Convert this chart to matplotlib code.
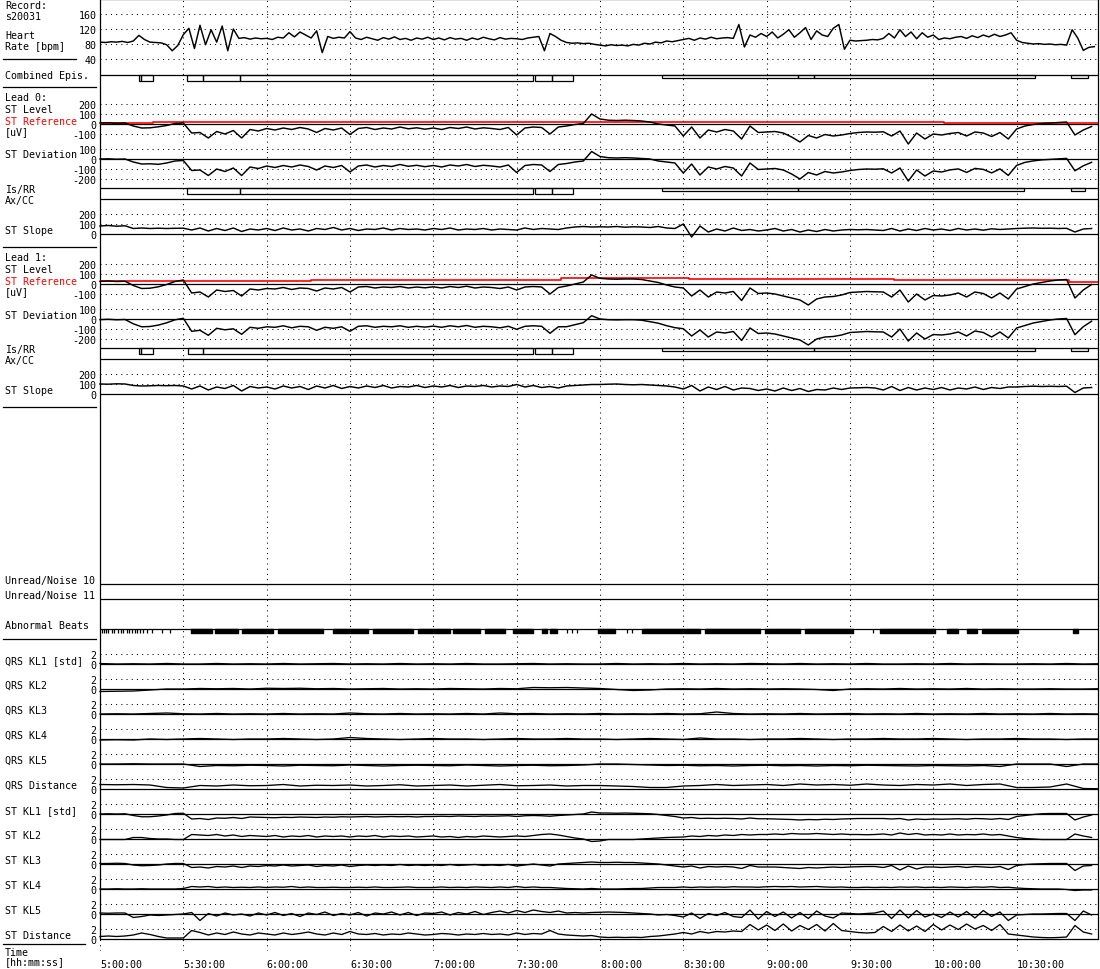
import matplotlib
matplotlib.use("Agg")
import matplotlib.pyplot as plt
from matplotlib.patches import Rectangle
from matplotlib.lines import Line2D
import numpy as np

plt.rcParams['font.family'] = ['DejaVu Sans Mono']
plt.rcParams['font.size'] = 7.2

# ---------------- data (time in minutes after 5:00:00) ----------------
T_END = 359.3
time_ticks = [0, 30, 60, 90, 120, 150, 180, 210, 240, 270, 300, 330]
time_labels = ["5:00:00", "5:30:00", "6:00:00", "6:30:00", "7:00:00", "7:30:00",
               "8:00:00", "8:30:00", "9:00:00", "9:30:00", "10:00:00", "10:30:00"]

# heart rate, one value every 2 min
hr = [85, 84, 86, 85, 87, 84, 88, 103, 92, 85, 84, 83, 78, 62, 76,
      105, 122, 68, 130, 78, 118, 85, 128, 62, 120, 95, 97, 93, 96, 94,
      95, 92, 98, 96, 110, 99, 112, 104, 96, 115, 57, 100, 95, 98, 96,
      113, 96, 92, 98, 94, 90, 97, 93, 99, 92, 95, 90, 96, 93, 98,
      92, 96, 91, 97, 93, 95, 90, 96, 92, 98, 94, 91, 97, 93, 95,
      94, 92, 96, 98, 100, 62, 108, 100, 90, 84, 82, 83, 81, 82, 79,
      77, 75, 78, 76, 77, 75, 79, 77, 82, 80, 85, 83, 88, 86, 89,
      92, 95, 90, 96, 93, 98, 94, 96, 97, 95, 132, 72, 104, 98, 108,
      100, 112, 96, 106, 118, 98, 110, 124, 92, 115, 104, 100, 122, 132, 66,
      90, 88, 89, 90, 92, 91, 95, 108, 96, 118, 100, 112, 94, 110, 98,
      104, 92, 96, 94, 98, 100, 95, 102, 97, 104, 99, 106, 100, 104, 110,
      90, 84, 82, 80, 81, 79, 80, 78, 79, 77, 118, 96, 63, 71, 73]

# ST level [uV], one value every 3 min
st_level0 = [10, 12, 8, 10, -20, -40, -38, -28, -15, 5,
             10, -90, -85, -140, -75, -100, -65, -140, -55, -70,
             -45, -60, -40, -55, -35, -50, -85, -45, -60, -40,
             -105, -45, -35, -55, -40, -50, -30, -48, -38, -52,
             -40, -55, -35, -45, -30, -50, -38, -45, -55, -35,
             -110, -40, -30, -35, -100, -30, -20, -5, 5, 100,
             50, 38, 35, 38, 35, 30, 20, 0, -10, -20,
             -120, -30, -140, -60, -80, -55, -70, -150, -20, -85,
             -80, -75, -90, -130, -180, -115, -140, -105, -120, -110,
             -95, -85, -80, -82, -78, -120, -70, -200, -90, -150,
             -100, -110, -95, -85, -120, -80, -90, -125, -85, -150,
             -50, -20, -5, 5, 10, 15, 20, -110, -60, -25]
st_level1 = [27, 30, 25, 28, -15, -45, -42, -28, -5, 25,
             40, -90, -80, -130, -60, -75, -65, -120, -50, -60,
             -45, -50, -35, -55, -40, -45, -70, -40, -50, -35,
             -80, -30, -25, -40, -30, -35, -25, -40, -30, -38,
             -28, -40, -25, -35, -22, -40, -30, -35, -45, -30,
             -60, -30, -25, -30, -100, -35, -20, 0, 20, 90,
             57, 50, 48, 50, 50, 45, 30, 15, -10, -30,
             -40, -120, -60, -130, -80, -90, -75, -165, -40, -95,
             -90, -100, -120, -140, -160, -210, -150, -130, -125, -110,
             -85, -80, -75, -78, -80, -130, -60, -180, -100, -160,
             -115, -120, -110, -90, -130, -80, -95, -140, -90, -150,
             -50, -25, 0, 15, 30, 40, 45, -140, -60, -5]

# ST reference, step changes (minute, uV)
ref0_t = [0, 19, 196, 304, 350]
ref0_v = [10, 25, 20, 14, 8]
ref1_t = [0, 76, 166, 212, 286, 349]
ref1_v = [33, 43, 57, 50, 40, 17]

st_slope0 = [80, 85, 78, 82, 55, 60, 55, 58, 55, 57,
             58, 40, 60, 30, 55, 35, 60, 25, 50, 40,
             55, 35, 60, 40, 50, 30, 55, 45, 65, 40,
             55, 35, 50, 45, 60, 40, 55, 45, 50, 40,
             55, 45, 60, 40, 50, 45, 55, 40, 50, 45,
             40, 60, 45, 55, 50, 45, 60, 70, 75, 70,
             72, 70, 75, 68, 72, 70, 65, 75, 60, 55,
             100, -30, 80, 20, 50, 30, 60, 35, 45, 30,
             40, 55, 30, 45, 20, 40, 25, 45, 30, 40,
             45, 42, 45, 40, 35, 55, 30, 50, 35, 55,
             40, 50, 35, 55, 40, 50, 38, 52, 45, 50,
             55, 58, 60, 57, 58, 55, 57, 20, 50, 55]
st_slope1 = [100, 98, 102, 100, 85, 80, 82, 85, 83, 85,
             80, 50, 80, 40, 70, 55, 85, 30, 75, 60,
             70, 50, 80, 60, 75, 45, 80, 60, 85, 55,
             75, 60, 80, 65, 85, 60, 75, 70, 85, 65,
             80, 70, 85, 65, 80, 75, 85, 70, 80, 75,
             95, 70, 85, 65, 75, 60, 80, 85, 90, 95,
             95, 98, 100, 95, 92, 95, 90, 85, 80, 70,
             50, 85, 30, 70, 45, 75, 40, 60, 55, 35,
             50, 30, 60, 35, 55, 25, 45, 40, 60, 45,
             60, 62, 65, 60, 40, 75, 35, 65, 40, 60,
             45, 65, 40, 60, 50, 70, 45, 65, 55, 70,
             70, 75, 78, 75, 77, 75, 78, 15, 60, 65]

# episodes (start min, end min, kind)
combined_epis = [(14.1, 14.8, 'a'), (14.8, 19.2, 'a'), (31.3, 37.1, 'a'), (37.1, 50.4, 'a'),
                 (50.4, 155.8, 'a'), (156.7, 162.6, 'a'), (162.6, 170.4, 'a'),
                 (202.2, 251.4, 'b'), (251.4, 257.1, 'b'), (257.1, 336.6, 'b'), (349.4, 355.8, 'b')]
isrr0_epis = [(31.3, 50.4, 'a'), (50.4, 155.8, 'a'), (156.7, 162.6, 'a'), (162.6, 170.4, 'a'),
              (202.2, 251.4, 'b'), (251.4, 332.6, 'b'), (349.4, 354.5, 'b')]
isrr1_epis = [(14.1, 14.8, 'a'), (14.8, 19.2, 'a'), (31.8, 37.2, 'a'), (37.2, 155.8, 'a'),
              (156.7, 162.6, 'a'), (162.6, 170.4, 'a'),
              (202.2, 257.1, 'b'), (257.1, 336.6, 'b'), (349.4, 355.8, 'b')]

# abnormal beats
abn_single = [0.7, 1.4, 2.2, 2.9, 4.3, 5.0, 6.5, 7.6, 8.3, 9.7, 10.4, 11.5, 12.6, 13.3,
              14.4, 15.5, 16.9, 18.7, 22.3, 25.2, 168.1, 169.9, 171.7, 189.7, 191.5, 278.3]
abn_runs = [(32.8, 40.3), (41.4, 49.7), (51.1, 62.3), (64.1, 80.3), (83.9, 96.5), (98.3, 112.7),
            (114.5, 126.0), (127.1, 136.8), (138.6, 145.8), (148.7, 155.9), (159.1, 160.9),
            (162.0, 164.5), (179.3, 185.4), (195.1, 216.0), (217.8, 237.6), (239.4, 252.0),
            (253.8, 271.1), (280.8, 300.6), (304.9, 308.9), (312.1, 315.7), (317.5, 330.5),
            (350.3, 352.1)]

# QRS KL traces, one value every 6 min
qrs_kl1 = [0.1, 0.0, 0.05, 0.0, 0.1, 0.0, 0.0, 0.1, 0.0, 0.05,
           0.0, 0.1, 0.0, 0.05, 0.1, 0.0, 0.05, 0.0, 0.1, 0.0,
           0.05, 0.0, 0.1, 0.0, 0.0, 0.05, 0.1, 0.0, 0.05, 0.0,
           0.0, 0.1, 0.0, 0.05, 0.0, 0.1, 0.0, 0.05, 0.0, 0.1,
           0.05, 0.0, 0.1, 0.0, 0.05, 0.0, 0.1, 0.0, 0.0, 0.05,
           0.0, 0.1, 0.0, 0.05, 0.0, 0.0, 0.05, 0.0, 0.1, 0.0, 0.05]
qrs_kl2 = [-0.5, -0.45, -0.4, -0.2, 0.0, 0.0, 0.1, 0.05, 0.1, 0.0,
           0.15, 0.1, 0.15, 0.05, 0.1, 0.0, 0.05, 0.1, 0.0, 0.05,
           0.0, 0.1, 0.05, 0.0, 0.1, 0.05, 0.3, 0.25, 0.3, 0.2,
           0.1, -0.1, -0.3, -0.2, 0.0, 0.05, 0.0, 0.1, 0.0, 0.05,
           0.0, 0.05, 0.0, -0.1, -0.3, 0.0, 0.05, 0.0, 0.1, 0.0,
           0.05, 0.0, 0.1, 0.0, 0.05, 0.0, 0.0, 0.05, 0.0, 0.0, 0.05]
qrs_kl3 = [0.0, 0.05, 0.0, 0.1, 0.2, 0.05, 0.0, 0.1, 0.0, 0.05,
           0.0, 0.1, 0.0, 0.05, 0.0, 0.2, 0.05, 0.0, 0.1, 0.0,
           0.05, 0.0, 0.1, 0.0, 0.2, 0.05, 0.1, 0.0, 0.05, 0.0,
           0.1, 0.0, 0.05, 0.0, 0.1, 0.0, 0.05, 0.4, 0.1, 0.0,
           0.05, 0.0, 0.1, 0.0, 0.05, 0.1, 0.0, 0.05, 0.0, 0.1,
           0.0, 0.05, 0.0, 0.1, 0.0, 0.05, 0.0, 0.1, 0.0, 0.05, 0.0]
qrs_kl4 = [-0.2, -0.15, -0.2, 0.0, -0.1, 0.0, 0.1, 0.0, -0.1, 0.0,
           0.0, 0.1, 0.0, -0.1, 0.0, 0.3, 0.1, 0.0, -0.1, 0.0,
           0.1, 0.0, 0.0, -0.1, 0.0, 0.1, 0.0, 0.0, 0.1, 0.0,
           0.0, -0.1, 0.0, 0.1, 0.0, -0.1, 0.2, 0.0, 0.0, -0.1,
           0.0, 0.0, 0.1, 0.0, -0.1, 0.0, 0.0, 0.1, 0.0, 0.0,
           0.1, 0.0, -0.1, 0.0, 0.0, 0.1, 0.0, 0.0, -0.1, 0.0, 0.0]
qrs_kl5 = [0.0, 0.0, 0.05, 0.0, 0.0, 0.0, -0.5, -0.3, -0.35, -0.25,
           -0.3, -0.4, -0.25, -0.3, -0.35, -0.2, -0.3, -0.4, -0.3, -0.25,
           -0.3, -0.35, -0.2, -0.3, -0.4, -0.3, -0.25, -0.35, -0.3, -0.2,
           0.0, 0.0, -0.1, -0.2, -0.3, -0.25, -0.35, -0.3, -0.4, -0.3,
           -0.25, -0.35, -0.3, -0.4, -0.3, -0.35, -0.25, -0.3, -0.35, -0.4,
           -0.3, -0.35, -0.4, -0.3, -0.5, 0.0, 0.0, 0.0, -0.5, 0.0, 0.0]
qrs_dist = [0.9, 0.85, 0.9, 0.8, 0.3, 0.2, 0.7, 0.6, 0.8, 0.65,
            0.7, 0.9, 0.6, 0.75, 0.7, 0.8, 0.6, 0.7, 0.85, 0.6,
            0.7, 0.8, 0.6, 0.75, 0.9, 0.65, 0.7, 0.8, 0.6, 0.7,
            0.7, 0.6, 0.5, 0.3, 0.3, 0.6, 0.7, 0.9, 0.7, 0.8,
            0.9, 0.7, 1.0, 0.8, 0.9, 0.75, 1.0, 0.8, 0.7, 0.9,
            0.8, 1.0, 0.7, 0.9, 1.0, 0.3, 0.3, 0.4, 1.0, 0.1, 0.05]

# ST KL traces, one value every 3 min
st_kl1 = [0.0, 0.05, 0.0, 0.05, -0.3, -0.55, -0.55, -0.4, -0.2, 0.1,
          0.15, -1.0, -0.9, -1.1, -0.8, -0.85, -0.7, -0.9, -0.6, -0.65,
          -0.7, -0.75, -0.65, -0.7, -0.6, -0.65, -0.7, -0.6, -0.65, -0.55,
          -0.6, -0.55, -0.5, -0.6, -0.55, -0.5, -0.55, -0.5, -0.6, -0.5,
          -0.5, -0.45, -0.5, -0.4, -0.45, -0.5, -0.4, -0.45, -0.4, -0.35,
          -0.5, -0.35, -0.3, -0.35, -0.45, -0.3, -0.2, -0.1, 0.0, 0.4,
          0.2, 0.2, 0.15, 0.2, 0.15, 0.1, 0.05, -0.1, -0.3, -0.5,
          -0.8, -0.7, -0.9, -0.85, -0.9, -0.85, -0.9, -1.0, -0.8, -0.95,
          -0.95, -1.0, -1.05, -1.1, -1.2, -1.1, -1.15, -1.05, -1.1, -1.0,
          -0.95, -0.9, -0.9, -0.9, -0.9, -1.0, -0.9, -1.2, -1.0, -1.1,
          -1.0, -1.05, -1.0, -0.95, -1.05, -0.9, -0.95, -1.05, -0.9, -1.1,
          -0.5, -0.3, -0.1, 0.05, 0.1, 0.1, 0.1, -1.2, -0.6, -0.2]
st_kl2 = [-0.1, -0.1, -0.1, -0.1, 0.3, 0.3, 0.1, 0.0, 0.0, -0.1,
          -0.1, 0.9, 0.8, 0.7, 0.9, 0.6, 0.8, 0.5, 0.7, 0.6,
          0.5, 0.7, 0.4, 0.6, 0.5, 0.7, 0.4, 0.6, 0.5, 0.6,
          0.4, 0.6, 0.5, 0.7, 0.4, 0.6, 0.5, 0.6, 0.4, 0.5,
          0.6, 0.4, 0.5, 0.3, 0.5, 0.4, 0.6, 0.5, 0.4, 0.5,
          0.6, 0.5, 0.7, 0.9, 1.0, 0.8, 0.5, 0.2, 0.0, -0.5,
          -0.4, -0.1, -0.1, -0.1, -0.1, 0.0, 0.1, 0.2, 0.3, 0.35,
          0.4, 0.6, 0.5, 0.7, 0.6, 0.8, 0.7, 0.9, 0.8, 0.9,
          0.9, 1.0, 0.9, 1.1, 1.0, 1.0, 1.1, 1.0, 0.9, 1.0,
          0.9, 0.9, 0.85, 0.9, 1.0, 0.8, 1.2, 0.9, 1.1, 0.8,
          0.9, 0.8, 1.0, 0.8, 0.9, 0.85, 1.0, 0.8, 0.9, 0.6,
          0.3, 0.1, 0.0, -0.1, -0.1, -0.1, -0.1, 1.0, 0.6, 0.3]
st_kl3 = [0.1, 0.1, 0.15, 0.1, -0.2, -0.35, -0.3, -0.2, 0.0, 0.1,
          0.1, -0.7, -0.6, -0.8, -0.5, -0.6, -0.4, -0.7, -0.4, -0.5,
          -0.3, -0.4, -0.2, -0.4, -0.3, -0.2, -0.5, -0.3, -0.4, -0.2,
          -0.5, -0.3, -0.2, -0.3, -0.2, -0.3, -0.1, -0.3, -0.2, -0.3,
          -0.2, -0.3, -0.1, -0.3, -0.2, -0.1, -0.3, -0.2, -0.3, -0.1,
          -0.4, -0.2, 0.0, -0.2, -0.4, 0.0, 0.1, 0.2, 0.3, 0.4,
          0.3, 0.3, 0.35, 0.3, 0.3, 0.2, 0.1, 0.0, -0.2, -0.4,
          -0.6, -0.4, -0.8, -0.5, -0.6, -0.5, -0.6, -0.9, -0.3, -0.6,
          -0.6, -0.6, -0.7, -0.8, -0.9, -0.7, -0.8, -0.7, -0.6, -0.7,
          -0.6, -0.55, -0.5, -0.5, -0.7, -0.3, -1.2, -0.4, -1.0, -0.6,
          -0.6, -0.7, -0.6, -0.5, -0.7, -0.5, -0.6, -0.7, -0.5, -1.1,
          -0.3, -0.1, 0.0, 0.05, 0.1, 0.1, 0.1, -1.3, -0.4, -0.3]
st_kl4 = [0.0, 0.0, 0.05, 0.0, 0.0, 0.05, 0.0, 0.0, 0.0, 0.0,
          0.1, 0.5, 0.4, 0.5, 0.3, 0.4, 0.3, 0.35, 0.3, 0.4,
          0.3, 0.4, 0.35, 0.5, 0.3, 0.4, 0.3, 0.3, 0.35, 0.3,
          0.3, 0.35, 0.3, 0.4, 0.3, 0.3, 0.35, 0.4, 0.3, 0.3,
          0.3, 0.4, 0.3, 0.35, 0.3, 0.4, 0.35, 0.3, 0.4, 0.3,
          0.5, 0.3, 0.4, 0.3, 0.3, 0.2, 0.1, 0.05, 0.0, 0.1,
          0.0, 0.0, 0.0, 0.05, 0.1, 0.1, 0.2, 0.3, 0.3, 0.3,
          0.4, 0.3, 0.4, 0.35, 0.4, 0.35, 0.45, 0.4, 0.4, 0.35,
          0.45, 0.5, 0.45, 0.5, 0.4, 0.45, 0.5, 0.4, 0.35, 0.4,
          0.3, 0.3, 0.35, 0.3, 0.35, 0.3, 0.4, 0.35, 0.4, 0.3,
          0.35, 0.3, 0.4, 0.35, 0.3, 0.4, 0.35, 0.45, 0.3, 0.35,
          0.2, 0.1, 0.05, 0.0, 0.0, 0.0, -0.1, -0.3, -0.2, -0.2]
st_kl5 = [0.2, 0.15, 0.2, 0.2, -0.7, -0.5, -0.2, -0.3, -0.2, -0.1,
          0.0, 0.3, -1.3, 0.1, -0.4, 0.2, -0.2, 0.0, -0.4, 0.2,
          -0.2, 0.3, -0.3, 0.1, -0.5, 0.2, -0.1, 0.4, -0.3, 0.1,
          -0.2, 0.3, -0.4, 0.2, 0.0, 0.4, -0.2, 0.3, -0.3, 0.2,
          0.1, 0.4, -0.2, 0.3, 0.0, 0.5, -0.1, 0.3, 0.6, 0.2,
          0.7, 0.3, 0.8, 0.5, 0.3, 0.6, 0.2, 0.3, 0.2, 0.3,
          0.35, 0.4, 0.35, 0.3, 0.2, 0.1, 0.0, -0.2, -0.1, -0.3,
          -0.6, 0.2, -0.9, 0.1, -0.3, 0.3, -0.5, -0.7, 0.8, -1.0,
          0.5, -0.5, 0.4, -0.8, 0.3, -0.9, 0.6, -0.4, -0.8, 0.2,
          0.1, 0.0, 0.1, 0.2, 0.6, -0.9, 0.8, -0.8, 0.7, -0.6,
          0.0, -0.7, 0.4, -0.6, 0.5, -0.8, 0.7, -0.5, 0.4, -1.3,
          -0.2, -0.1, 0.0, 0.0, 0.05, 0.1, 0.1, -1.3, 0.6, -0.2]
st_dist = [0.5, 0.6, 0.5, 0.6, 0.8, 1.2, 0.9, 0.5, 0.2, 0.2,
           0.2, 1.7, 1.3, 0.8, 1.2, 0.9, 1.4, 1.0, 0.8, 1.2,
           1.0, 0.8, 1.2, 0.9, 1.1, 1.4, 1.0, 0.8, 1.2, 0.9,
           1.5, 1.0, 0.9, 1.1, 0.8, 1.0, 0.9, 1.2, 1.0, 0.8,
           0.9, 1.1, 1.0, 0.8, 1.0, 0.9, 1.1, 0.9, 1.0, 0.8,
           1.2, 0.9, 1.1, 1.0, 1.7, 1.0, 0.8, 0.7, 0.6, 0.7,
           0.4, 0.3, 0.35, 0.3, 0.35, 0.3, 0.5, 0.6, 0.8, 1.0,
           1.3, 1.0, 1.5, 1.2, 1.5, 1.4, 1.6, 1.5, 2.9, 1.8,
           2.8, 1.7, 3.0, 1.6, 2.7, 1.9, 2.9, 1.6, 3.1, 1.7,
           1.5, 1.3, 1.2, 1.3, 2.5, 1.5, 2.8, 1.6, 2.6, 1.5,
           2.9, 1.8, 2.8, 1.9, 3.0, 2.0, 2.7, 1.7, 2.9, 1.0,
           0.8, 0.6, 0.4, 0.3, 0.25, 0.3, 0.4, 2.7, 1.4, 1.0]

kl_names = ["QRS KL1 [std]", "QRS KL2", "QRS KL3", "QRS KL4", "QRS KL5", "QRS Distance",
            "ST KL1 [std]", "ST KL2", "ST KL3", "ST KL4", "ST KL5", "ST Distance"]
kl_series = [qrs_kl1, qrs_kl2, qrs_kl3, qrs_kl4, qrs_kl5, qrs_dist,
             st_kl1, st_kl2, st_kl3, st_kl4, st_kl5, st_dist]

# ---------------- drawing ----------------
W, H = 1100, 970
X0, X1 = 100, 1098
DOT = (0, (1, 4))
LW = 1.05

fig = plt.figure(figsize=(11, 9.7), dpi=100)


def panel(top, bottom, ylim):
    ax = fig.add_axes([X0 / W, 1 - bottom / H, (X1 - X0) / W, (bottom - top) / H])
    ax.set_xlim(0, T_END)
    ax.set_ylim(*ylim)
    ax.patch.set_alpha(0)
    for s in ax.spines.values():
        s.set_visible(False)
    ax.set_xticks([])
    ax.set_yticks([])
    ax.tick_params(axis='y', length=0, pad=2.5, labelsize=7.2)
    return ax


def yaxis(ax, ticks, dotted, solid):
    ax.set_yticks(ticks)
    ax.set_yticklabels([str(t) for t in ticks])
    for v in dotted:
        ax.axhline(v, color='k', lw=0.75, ls=DOT, zorder=1)
    for v in solid:
        ax.axhline(v, color='k', lw=0.9, zorder=2)


def times(n, step):
    return np.arange(n) * step


def ref_at(t, rt, rv):
    idx = np.searchsorted(rt, t, side='right') - 1
    return np.asarray(rv)[idx]


def draw_epis(ax, epis):
    depth = {'a': 5.5, 'b': 3.0}
    for s, e, k in epis:
        ax.add_patch(Rectangle((s, -depth[k]), e - s, depth[k], fill=False,
                               ec='k', lw=0.9, zorder=3))


def row(line_y):
    ax = panel(line_y - 6, line_y + 12, (-12, 6))
    ax.axhline(0, color='k', lw=0.9, zorder=2)
    return ax


# frame and vertical time grid
frame = fig.add_axes([X0 / W, 1 - 940 / H, (X1 - X0) / W, 940 / H])
frame.set_xlim(0, T_END)
frame.set_ylim(0, 1)
frame.patch.set_alpha(0)
frame.set_xticks([])
frame.set_yticks([])
frame.spines['bottom'].set_visible(False)
for s in ['left', 'top', 'right']:
    frame.spines[s].set_linewidth(0.9)
for t in time_ticks[1:]:
    frame.axvline(t, color='k', lw=0.75, ls=DOT, zorder=1)
below = panel(940, 952, (0, 1))
for t in time_ticks:
    below.axvline(t, color='k', lw=0.75, ls=DOT)

# heart rate
t_hr = times(len(hr), 2)
ax = panel(0, 75, (0, 200))
yaxis(ax, [40, 80, 120, 160], [40, 80, 120, 160], [])
ax.plot(t_hr, hr, color='k', lw=LW, zorder=4)

draw_epis(row(76), combined_epis)

t_st = times(len(st_level0), 3)
for off, lvl, rt, rv, epis, slope in [(0, st_level0, ref0_t, ref0_v, isrr0_epis, st_slope0),
                                      (160, st_level1, ref1_t, ref1_v, isrr1_epis, st_slope1)]:
    ax = panel(95 + off, 142 + off, (-170, 300))
    yaxis(ax, [-100, 0, 100, 200], [-100, 100, 200], [0])
    ax.step(rt + [T_END], rv + [rv[-1]], where='post', color='red', lw=1.2, zorder=3)
    ax.plot(t_st, lvl, color='k', lw=LW, zorder=4, clip_on=False)

    dev = np.asarray(lvl) - ref_at(t_st, rt, rv)
    ax = panel(142 + off, 186 + off, (-260, 180))
    yaxis(ax, [-200, -100, 0, 100], [-200, -100, 100], [0])
    ax.plot(t_st, dev, color='k', lw=LW, zorder=4, clip_on=False)

    draw_epis(row(189 + off), epis)
    row(200 + off)

    ax = panel(205 + off, 240 + off, (-50, 300))
    yaxis(ax, [0, 100, 200], [100, 200], [0])
    ax.plot(t_st, slope, color='k', lw=LW, zorder=4, clip_on=False)

row(585)
row(600)
ax = row(630)
ax.vlines(abn_single, -3.5, 0, color='k', lw=0.9)
ax.broken_barh([(s, e - s) for s, e in abn_runs], (-3.5, 3.5), color='k')

# KL panels
for k, (name, vals) in enumerate(zip(kl_names, kl_series)):
    z = 665 + 25 * k
    ax = panel(z - 20, z + 5, (-1, 4))
    yaxis(ax, [0, 2], [2], [0])
    step = 6 if k < 6 else 3
    t_kl = np.minimum(times(len(vals), step), T_END)
    ax.plot(t_kl, vals, color='k', lw=0.95, zorder=4, clip_on=False)
    fig.text(5 / W, 1 - (661 + 25 * k) / H, name, va='center', ha='left')
    if k == len(kl_names) - 1:
        ax.set_xticks(time_ticks)
        ax.set_xticklabels(time_labels, ha='left')
        ax.tick_params(axis='x', length=0, pad=11, labelsize=7.2)

# left labels
labels = [(6, "Record:", 'k'), (17, "s20031", 'k'), (36, "Heart", 'k'), (47, "Rate [bpm]", 'k'),
          (76, "Combined Epis.", 'k'),
          (98, "Lead 0:", 'k'), (110, "ST Level", 'k'), (122, "ST Reference", 'red'),
          (132, "[uV]", 'k'), (155, "ST Deviation", 'k'),
          (190, "Is/RR", 'k'), (201, "Ax/CC", 'k'), (231, "ST Slope", 'k'),
          (258, "Lead 1:", 'k'), (270, "ST Level", 'k'), (282, "ST Reference", 'red'),
          (292, "[uV]", 'k'), (316, "ST Deviation", 'k'),
          (350, "Is/RR", 'k'), (361, "Ax/CC", 'k'), (391, "ST Slope", 'k'),
          (581, "Unread/Noise 10", 'k'), (596, "Unread/Noise 11", 'k'), (626, "Abnormal Beats", 'k'),
          (953, "Time", 'k'), (962, "[hh:mm:ss]", 'k')]
for y, s, c in labels:
    fig.text(5 / W, 1 - y / H, s, va='center', ha='left', color=c)

for y, xa, xb in [(60, 3, 76), (88, 3, 96), (248, 3, 96), (408, 3, 96), (640, 3, 96), (945, 3, 85)]:
    fig.add_artist(Line2D([xa / W, xb / W], [1 - y / H, 1 - y / H],
                          transform=fig.transFigure, color='k', lw=0.9))

fig.savefig("out.png", dpi=100, facecolor='white')
